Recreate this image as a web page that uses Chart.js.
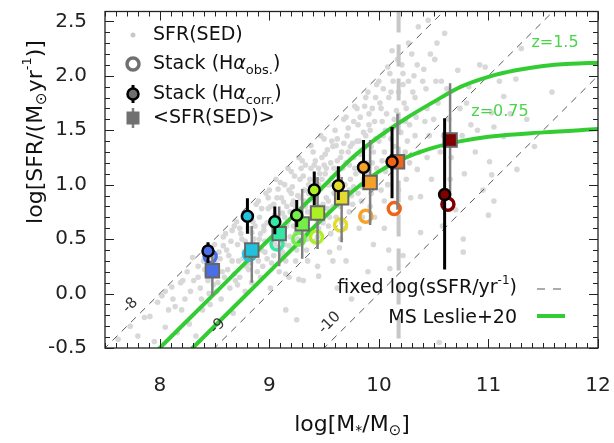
<!DOCTYPE html>
<html><head><meta charset="utf-8">
<script src="https://cdn.jsdelivr.net/npm/chart.js@4.4.1/dist/chart.umd.min.js"></script>
<style>html,body{margin:0;padding:0;background:#fff}canvas{display:block}</style>
</head><body>
<canvas id="c" width="614" height="443"></canvas>
<script>
// --- data ---
const binColors = ['#4a6ee6', '#22c2de', '#34e8a4', '#74ee48', '#acf024', '#e4dc2c', '#f5a228', '#f06418', '#800000'];

const corrMass = [8.44, 8.80, 9.05, 9.25, 9.41, 9.63, 9.86, 10.12, 10.60];
const corrSfr = [0.39, 0.71, 0.66, 0.72, 0.95, 0.99, 1.16, 1.21, 0.91];
const corrLo = [0.28, 0.55, 0.545, 0.61, 0.81, 0.86, 0.98, 0.875, 0.22];
const corrHi = [0.47, 0.875, 0.80, 0.86, 1.12, 1.17, 1.41, 1.53, 1.61];

const obsMass = [8.46, 8.82, 9.07, 9.27, 9.43, 9.65, 9.88, 10.14, 10.63];
const obsSfr = [0.34, 0.36, 0.455, 0.50, 0.52, 0.63, 0.71, 0.78, 0.82];

const sedMeanMass = [8.48, 8.84, 9.09, 9.30, 9.44, 9.66, 9.92, 10.17, 10.65];
const sedMeanSfr = [0.21, 0.40, 0.55, 0.64, 0.74, 0.88, 1.02, 1.21, 1.41];
const sedMeanLo = [-0.02, 0.10, 0.25, 0.32, 0.41, 0.47, 0.63, 0.77, 0.89];
const sedMeanHi = [0.40, 0.62, 0.80, 0.96, 1.07, 1.07, 1.41, 1.65, 1.93];

// main sequence (Leslie+20)
const ms15Mass = [7.9, 8.0, 8.5, 9.0, 9.5, 9.75, 10.0, 10.25, 10.5, 10.75, 11.0, 11.25, 11.5, 11.75, 12.0];
const ms15Sfr = [-0.60, -0.50, 0.00, 0.50, 0.99, 1.24, 1.44, 1.61, 1.76, 1.90, 1.99, 2.05, 2.09, 2.11, 2.12];
const ms075Mass = [8.2, 8.3, 8.75, 9.25, 9.5, 9.75, 10.0, 10.25, 10.5, 10.75, 11.0, 11.5, 12.0];
const ms075Sfr = [-0.60, -0.50, -0.05, 0.45, 0.70, 0.93, 1.12, 1.25, 1.34, 1.40, 1.44, 1.48, 1.51];

// fixed sSFR lines
const ssfrLevels = [-8, -9, -10];
const ssfrMassEnds = [[7.4, 10.7], [8.4, 11.7], [9.4, 12.1]];
const ssfrLabelPos = [[7.73, -0.11], [8.53, -0.30], [9.55, -0.27]];
const massLimit = 10.18;

// individual SFR(SED) galaxies
const sedPoints = [
  [7.62,-0.42],[7.73,-0.30],[7.80,-0.39],[7.86,-0.22],[7.91,-0.21],[7.95,-0.44],[7.98,-0.08],
  [8.02,-0.02],[8.05,-0.31],[8.08,-0.15],[8.11,0.06],[8.14,-0.12],[8.16,-0.36],[8.19,0.10],
  [8.21,0.12],[8.23,-0.05],[8.25,0.20],[8.27,-0.28],[8.28,0.02],[8.30,0.33],[8.31,0.12],
  [8.33,-0.39],[8.35,0.25],[8.37,0.05],[8.39,-0.15],[8.40,0.30],[8.42,0.40],[8.43,0.18],
  [8.45,0.00],[8.46,-0.10],[8.48,0.33],[8.49,0.08],[8.50,0.45],[8.51,0.28],[8.53,0.10],
  [8.54,0.38],[8.56,-0.05],[8.57,0.20],[8.58,0.52],[8.59,0.15],[8.60,0.55],[8.61,0.40],
  [8.62,0.22],[8.64,0.05],[8.65,0.48],[8.66,0.30],[8.67,-0.18],[8.68,0.62],[8.69,0.12],
  [8.70,0.66],[8.71,0.45],[8.72,0.30],[8.73,0.15],[8.74,0.55],[8.76,0.70],[8.77,0.38],
  [8.78,0.02],[8.79,0.25],[8.75,0.50],[8.80,0.75],[8.81,0.60],[8.82,0.42],[8.83,0.28],
  [8.84,0.10],[8.85,0.66],[8.86,0.50],[8.87,0.35],[8.88,0.82],[8.89,0.20],[8.84,0.56],
  [8.90,0.85],[8.91,0.70],[8.92,0.55],[8.93,0.40],[8.94,0.25],[8.95,0.62],[8.96,0.48],
  [8.97,0.92],[8.98,0.32],[8.99,0.78],[8.92,0.15],[8.95,0.58],[9.00,0.95],[9.01,0.80],
  [9.02,0.65],[9.03,0.50],[9.04,0.35],[9.05,0.72],[9.06,0.58],[9.07,0.88],[9.08,0.42],
  [9.09,0.20],[9.06,1.05],[9.03,0.62],[9.01,0.05],[9.10,1.02],[9.11,0.88],[9.12,0.74],
  [9.13,0.60],[9.14,0.45],[9.15,0.30],[9.16,0.80],[9.17,0.66],[9.18,0.95],[9.19,0.52],
  [9.17,1.15],[9.12,0.38],[9.14,0.70],[9.15,-0.15],[9.15,0.18],[9.20,1.12],[9.21,0.98],
  [9.22,0.85],[9.23,0.70],[9.24,0.55],[9.25,0.40],[9.26,0.90],[9.27,0.76],[9.28,1.05],
  [9.29,0.62],[9.22,0.48],[9.27,1.25],[9.24,0.30],[9.21,0.82],[9.25,-0.24],[9.27,0.13],
  [9.30,1.22],[9.31,1.08],[9.32,0.95],[9.33,0.80],[9.34,0.65],[9.35,0.50],[9.36,1.00],
  [9.37,0.86],[9.38,1.15],[9.39,0.72],[9.32,0.58],[9.38,1.36],[9.34,0.40],[9.36,0.92],
  [9.31,0.12],[9.40,1.30],[9.41,1.18],[9.42,1.05],[9.43,0.90],[9.44,0.75],[9.45,0.60],
  [9.46,1.10],[9.47,0.96],[9.48,1.25],[9.49,0.82],[9.43,0.68],[9.47,1.45],[9.41,0.48],
  [9.45,1.00],[9.44,0.25],[9.45,0.16],[9.50,1.42],[9.51,1.28],[9.52,1.15],[9.53,1.00],
  [9.54,0.85],[9.55,0.70],[9.56,1.20],[9.57,1.06],[9.58,1.35],[9.59,0.92],[9.53,0.78],
  [9.56,0.55],[9.51,1.10],[9.58,0.30],[9.60,1.50],[9.61,1.36],[9.62,1.22],[9.63,1.08],
  [9.64,0.95],[9.65,0.80],[9.66,1.30],[9.67,1.15],[9.68,1.60],[9.69,1.00],[9.62,0.88],
  [9.66,0.65],[9.64,0.42],[9.62,0.05],[9.70,1.62],[9.71,1.45],[9.72,1.30],[9.73,1.18],
  [9.74,1.05],[9.75,0.90],[9.76,1.38],[9.77,1.25],[9.78,1.72],[9.79,1.10],[9.73,0.75],
  [9.77,0.98],[9.70,0.30],[9.75,-0.05],[9.80,1.70],[9.81,1.55],[9.82,1.40],[9.83,1.28],
  [9.84,1.12],[9.85,0.98],[9.86,1.48],[9.87,1.34],[9.88,1.80],[9.89,1.20],[9.84,0.85],
  [9.82,0.60],[9.90,1.85],[9.91,1.65],[9.92,1.50],[9.93,1.35],[9.94,1.20],[9.95,1.05],
  [9.96,1.58],[9.97,1.42],[9.98,1.92],[9.93,0.92],[9.96,0.70],[9.90,0.20],[9.95,0.45],
  [10.00,1.95],[10.01,1.75],[10.03,1.58],[10.04,1.45],[10.05,1.30],[10.06,1.12],[10.07,1.65],
  [10.08,2.08],[10.02,0.95],[10.09,0.40],[10.05,0.60],[10.10,2.02],[10.11,1.85],[10.12,2.23],
  [10.13,1.52],[10.14,1.35],[10.15,1.18],[10.17,2.15],[10.18,0.95],[10.10,0.23],[10.16,1.68],
  [10.21,2.10],[10.22,1.92],[10.23,1.75],[10.24,1.58],[10.26,1.40],[10.27,2.30],[10.28,1.20],
  [10.29,0.88],[10.22,0.35],[10.30,2.20],[10.32,2.00],[10.33,1.80],[10.34,1.62],[10.35,1.14],
  [10.36,2.45],[10.38,0.89],[10.38,0.56],[10.41,2.06],[10.43,1.88],[10.44,1.70],[10.45,2.51],
  [10.46,1.45],[10.48,1.05],[10.51,2.15],[10.52,1.95],[10.54,1.75],[10.56,1.30],[10.58,0.62],
  [10.55,-0.45],[10.60,2.39],[10.62,1.88],[10.64,1.60],[10.66,1.25],[10.70,0.77],[10.72,2.05],
  [10.74,1.70],[10.76,1.45],[10.77,0.50],[10.78,1.10],[10.82,1.90],[10.84,1.55],[10.77,0.38],
  [10.88,1.30],[10.92,2.10],[10.95,0.95],[10.97,2.08],[11.03,1.66],[11.05,0.85],[11.00,0.72],
  [11.05,1.53],[11.01,1.21],[11.14,1.81],[11.14,1.44],[11.03,1.09],[11.25,1.97],[11.26,1.14],
  [11.35,1.60],[11.42,1.35],[11.58,1.85],[11.30,2.25],
  [8.52,0.02],[8.55,0.32],[8.58,0.44],[8.63,0.35],[8.66,0.58],[8.68,0.18],[8.71,0.08],
  [8.73,0.60],[8.76,0.32],[8.78,0.48],[8.81,0.22],[8.83,0.70],[8.86,0.40],[8.87,0.62],
  [8.90,0.30],[8.91,0.50],[8.93,0.78],[8.96,0.38],[8.98,0.65],[8.99,0.88],[9.02,0.28],
  [9.04,0.82],[9.05,0.45],[9.07,0.68],[9.08,0.96],[9.10,0.55],[9.11,0.36],[9.13,0.84],
  [9.14,1.00],[9.16,0.62],[9.18,0.44],[9.19,0.75],[9.20,0.92],[9.22,0.62],[9.23,1.08],
  [9.24,0.78],[9.26,0.50],[9.28,0.88],[9.29,1.15],[9.30,0.68],[9.32,0.85],[9.33,1.18],
  [9.35,0.75],[9.36,0.55],[9.37,1.05],[9.38,0.95],[9.40,0.70],[9.41,0.88],[9.42,1.22],
  [9.44,0.52],[9.45,1.15],[9.46,0.80],[9.48,1.05],[9.49,0.65],[9.50,1.18],[9.52,0.88],
  [9.53,1.32],[9.54,0.62],[9.55,1.00],[9.57,1.40],[9.58,0.80],[9.59,1.15],[9.61,0.70],
  [9.62,1.42],[9.63,0.98],[9.65,1.25],[9.67,0.90],[9.68,1.38],[9.69,0.60],[9.70,1.20],
  [9.72,1.52],[9.73,0.95],[9.74,1.35],[9.76,0.82],[9.77,1.58],[9.78,1.15],[9.80,1.40],
  [9.81,0.92],[9.83,1.62],[9.84,1.30],[9.86,1.05],[9.87,1.72],[9.88,1.45],[9.90,1.10],
  [9.91,1.55],[9.92,0.80],[9.94,1.70],[9.95,1.30],[9.97,1.80],[9.98,1.15],[10.00,1.40],
  [10.02,1.70],[10.03,1.22],[10.04,1.88],[10.06,1.50],[10.08,1.00],[10.09,1.80],[10.11,1.42],
  [10.13,1.95],[10.14,1.60],[10.16,1.25],[10.18,1.85],[10.20,1.48],[10.22,2.02],[10.24,1.30],
  [10.25,1.70],[10.27,1.95],[10.28,1.55],[10.31,1.85],[10.33,1.45],[10.35,2.10],[10.37,1.30],
  [10.40,1.95],[10.42,1.58],[10.44,1.25],[10.47,2.20],[10.50,1.60],[10.53,2.30],[10.57,1.95],
  [10.59,1.45],[8.35,0.15],[8.38,-0.05],[8.41,0.22],[8.44,0.12],[8.47,0.24],[8.20,-0.15],
  [8.12,-0.05],[8.05,0.02],[9.18,0.15],[9.35,0.30],[9.55,0.38],[9.65,0.50],[9.85,0.70],
  [10.05,0.85],[10.25,1.05],[10.65,1.05],[10.80,1.75],[10.90,1.50],[11.10,1.95],[11.20,1.65]
];

const FONT = 'DejaVu Sans';
const GREEN = '#33cc33';

function pts(xs, ys) {
  return xs.map((x, i) => ({ x: x, y: ys[i] }));
}

function barPts(xs, lo, hi) {
  const out = [];
  xs.forEach((x, i) => {
    out.push({ x: x, y: lo[i] }, { x: x, y: hi[i] }, { x: x, y: null });
  });
  return out;
}

function lineSet(data, color, width, dash, order) {
  return {
    data: data, showLine: true, borderColor: color, borderWidth: width,
    borderDash: dash || [], pointRadius: 0, pointHoverRadius: 0,
    clip: 0, order: order, spanGaps: false
  };
}

const datasets = [];
// top of the stack: lowest order
datasets.push({
  data: pts(corrMass, corrSfr), pointStyle: 'circle', pointRadius: 5.5,
  backgroundColor: binColors, borderColor: '#000', borderWidth: 2.5, order: 1
});
datasets.push(lineSet(barPts(corrMass, corrLo, corrHi), '#000', 3, null, 2));
datasets.push({
  data: pts(sedMeanMass, sedMeanSfr), pointStyle: 'rect', pointRadius: 9.5,
  backgroundColor: binColors, borderColor: '#666', borderWidth: 2, order: 3
});
datasets.push(lineSet(barPts(sedMeanMass, sedMeanLo, sedMeanHi), '#808080', 2.5, null, 4));
datasets.push({
  data: pts(obsMass, obsSfr), pointStyle: 'circle', pointRadius: 6,
  backgroundColor: 'rgba(0,0,0,0)', borderColor: binColors, borderWidth: 3.5, order: 5
});
datasets.push(Object.assign(lineSet(pts(ms15Mass, ms15Sfr), GREEN, 4, null, 6), { cubicInterpolationMode: 'monotone' }));
datasets.push(Object.assign(lineSet(pts(ms075Mass, ms075Sfr), GREEN, 4, null, 6), { cubicInterpolationMode: 'monotone' }));
datasets.push(lineSet([{ x: massLimit, y: 2.6 }, { x: massLimit, y: -0.5 }], '#c6c6c6', 4, [22, 12], 7));
ssfrLevels.forEach((s, i) => {
  const ends = ssfrMassEnds[i];
  datasets.push(lineSet(ends.map(m => ({ x: m, y: m + s })), '#5a5a5a', 1, [7, 6], 8));
});
datasets.push({
  data: sedPoints.map(p => ({ x: p[0], y: p[1] })), pointStyle: 'circle', pointRadius: 2.8,
  backgroundColor: '#d8d8d8', borderWidth: 0, order: 9
});

// rich text: parts = [text, size, dy, italic]
function rich(ctx, parts, x, y, align, color) {
  const fnt = p => (p[3] ? 'italic ' : '') + p[1] + 'px "' + FONT + '"';
  let w = 0;
  parts.forEach(p => { ctx.font = fnt(p); w += ctx.measureText(p[0]).width; });
  let cx = align === 'right' ? x - w : (align === 'center' ? x - w / 2 : x);
  ctx.fillStyle = color || '#111';
  ctx.textAlign = 'left';
  ctx.textBaseline = 'middle';
  parts.forEach(p => {
    ctx.font = fnt(p);
    ctx.fillText(p[0], cx, y + (p[2] || 0));
    cx += ctx.measureText(p[0]).width;
  });
}

const decor = {
  id: 'decor',
  afterDatasetsDraw(chart) {
    const ctx = chart.ctx;
    const a = chart.chartArea;
    const xs = chart.scales.x, ys = chart.scales.y;
    ctx.save();

    // frame and inward ticks on all sides
    ctx.strokeStyle = '#222';
    ctx.lineWidth = 1.3;
    ctx.strokeRect(a.left, a.top, a.right - a.left, a.bottom - a.top);
    ctx.lineWidth = 1;
    ctx.beginPath();
    for (let i = 75; i <= 120; i++) {
      const px = Math.round(xs.getPixelForValue(i / 10)) + 0.5;
      const len = i % 10 === 0 ? 9 : 5;
      ctx.moveTo(px, a.bottom); ctx.lineTo(px, a.bottom - len);
      ctx.moveTo(px, a.top); ctx.lineTo(px, a.top + len);
    }
    for (let i = -5; i <= 25; i++) {
      const py = Math.round(ys.getPixelForValue(i / 10)) + 0.5;
      const len = i % 5 === 0 ? 9 : 5;
      ctx.moveTo(a.left, py); ctx.lineTo(a.left + len, py);
      ctx.moveTo(a.right, py); ctx.lineTo(a.right - len, py);
    }
    ctx.stroke();

    // sSFR labels along the dashed lines
    const ang = Math.atan2(ys.getPixelForValue(1) - ys.getPixelForValue(0),
                           xs.getPixelForValue(8.5) - xs.getPixelForValue(7.5));
    ssfrLevels.forEach((s, i) => {
      const p = ssfrLabelPos[i];
      ctx.save();
      ctx.translate(xs.getPixelForValue(p[0]), ys.getPixelForValue(p[1]));
      ctx.rotate(ang);
      rich(ctx, [[String(s), 15]], 0, 0, 'center', '#333');
      ctx.restore();
    });

    // redshift labels
    rich(ctx, [['z=1.5', 16]], 555, 43, 'center', '#4ad44a');
    rich(ctx, [['z=0.75', 16]], 500, 112, 'center', '#4ad44a');

    // top-left legend
    const lx = 133, tx = 153;
    ctx.fillStyle = '#c8c8c8';
    ctx.beginPath(); ctx.arc(lx, 35, 2.5, 0, Math.PI * 2); ctx.fill();
    rich(ctx, [['SFR(SED)', 19]], tx, 35);

    ctx.strokeStyle = '#707070'; ctx.lineWidth = 3.5;
    ctx.beginPath(); ctx.arc(lx, 64, 6, 0, Math.PI * 2); ctx.stroke();
    rich(ctx, [['Stack (H', 19], ['\u03b1', 19, 0, true], ['obs.', 13, 7], [')', 19]], tx, 64);

    ctx.strokeStyle = '#000'; ctx.lineWidth = 3;
    ctx.beginPath(); ctx.moveTo(lx, 85); ctx.lineTo(lx, 103); ctx.stroke();
    ctx.fillStyle = '#707070'; ctx.lineWidth = 2.5;
    ctx.beginPath(); ctx.arc(lx, 94, 5.5, 0, Math.PI * 2); ctx.fill(); ctx.stroke();
    rich(ctx, [['Stack (H', 19], ['\u03b1', 19, 0, true], ['corr.', 13, 7], [')', 19]], tx, 94);

    ctx.strokeStyle = '#808080'; ctx.lineWidth = 2.5;
    ctx.beginPath(); ctx.moveTo(lx, 108); ctx.lineTo(lx, 128); ctx.stroke();
    ctx.fillStyle = '#707070';
    ctx.fillRect(lx - 6.5, 118 - 6.5, 13, 13);
    rich(ctx, [['<SFR(SED)>', 19]], tx, 118);

    // bottom-right legend
    rich(ctx, [['fixed log(sSFR/yr', 19], ['-1', 12, -7], [')', 19]], 517, 288, 'right');
    ctx.strokeStyle = '#5a5a5a'; ctx.lineWidth = 1.2; ctx.setLineDash([8, 8]);
    ctx.beginPath(); ctx.moveTo(537, 289); ctx.lineTo(563, 289); ctx.stroke();
    ctx.setLineDash([]);
    rich(ctx, [['MS Leslie+20', 19]], 517, 318, 'right');
    ctx.strokeStyle = GREEN; ctx.lineWidth = 4;
    ctx.beginPath(); ctx.moveTo(537, 316); ctx.lineTo(565, 316); ctx.stroke();

    // axis titles
    rich(ctx, [['log[M', 22], ['*', 14, 6], ['/M', 22], ['\u2299', 15, 6], [']', 22]], 352, 425, 'center');
    ctx.save();
    ctx.translate(36, 132);
    ctx.rotate(-Math.PI / 2);
    rich(ctx, [['log[SFR/(M', 22], ['\u2299', 15, 6], ['yr', 22], ['-1', 13, -8], [')]', 22]], 0, 0, 'center');
    ctx.restore();

    ctx.restore();
  }
};

new Chart(document.getElementById('c'), {
  type: 'scatter',
  data: { datasets: datasets },
  options: {
    responsive: false,
    animation: false,
    devicePixelRatio: 1,
    layout: { padding: { left: 0, right: 16, top: 3, bottom: 0 } },
    plugins: { legend: { display: false }, tooltip: { enabled: false } },
    scales: {
      x: {
        type: 'linear', min: 7.5, max: 12,
        grid: { display: false }, border: { display: false },
        ticks: { stepSize: 1, includeBounds: false, padding: 18, color: '#222',
                 font: { family: FONT, size: 20 } },
        afterFit: s => { s.height = 95; s.paddingLeft = 0; s.paddingRight = 0; }
      },
      y: {
        type: 'linear', min: -0.5, max: 2.59,
        grid: { display: false }, border: { display: false },
        ticks: { stepSize: 0.5, includeBounds: false, padding: 10, color: '#222',
                 font: { family: FONT, size: 20 }, callback: v => v.toFixed(1) },
        afterFit: s => { s.width = 105; s.paddingTop = 0; s.paddingBottom = 0; }
      }
    }
  },
  plugins: [decor]
});
</script>
</body></html>
